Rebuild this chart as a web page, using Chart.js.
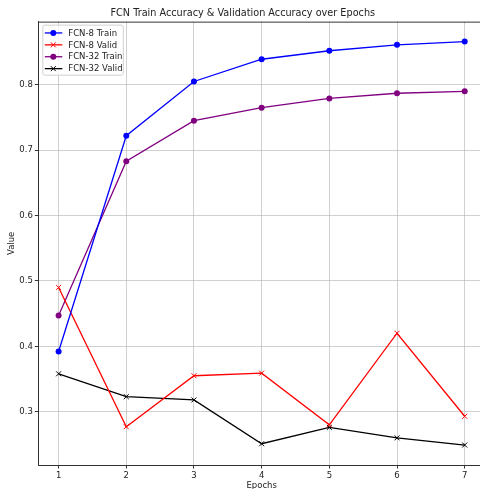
<!DOCTYPE html>
<html>
<head>
<meta charset="utf-8">
<script src="https://cdn.jsdelivr.net/npm/chart.js@4"></script>
<style>
  html, body { margin: 0; padding: 0; background: #fff; overflow: hidden; }
  canvas { display: block; }
</style>
</head>
<body>
<canvas id="acc-chart" width="490" height="489"></canvas>
<script>
// Values
const epochs = [1, 2, 3, 4, 5, 6, 7];
const fcn8Train = [0.392, 0.722, 0.805, 0.839, 0.852, 0.861, 0.866];
const fcn8Valid = [0.490, 0.277, 0.355, 0.359, 0.280, 0.420, 0.293];
const fcn32Train = [0.447, 0.683, 0.745, 0.765, 0.779, 0.787, 0.790];
const fcn32Valid = [0.358, 0.323, 0.318, 0.251, 0.276, 0.260, 0.249];
const yTicks = [0.3, 0.4, 0.5, 0.6, 0.7, 0.8];

const FONT = 'DejaVu Sans';
const TEXT = '#222';

function toPoints(values) {
    return values.map((v, i) => ({ x: epochs[i], y: v }));
}

function makeSet(label, values, color, marker) {
    return {
        label: label,
        data: toPoints(values),
        borderColor: color,
        backgroundColor: color,
        borderWidth: 1.3,
        pointStyle: marker,
        pointRadius: marker === 'circle' ? 3 : 3.5,
        pointBorderWidth: marker === 'circle' ? 0 : 1,
        tension: 0
    };
}

// matplotlib-ish legend box in the upper left + top frame line
const frameAndLegend = {
    id: 'frameAndLegend',
    afterDraw(chart) {
        const ctx = chart.ctx;
        const area = chart.chartArea;
        ctx.save();
        ctx.strokeStyle = '#333';
        ctx.lineWidth = 1;
        ctx.beginPath();
        ctx.moveTo(area.left, area.top + 0.5);
        ctx.lineTo(area.right, area.top + 0.5);
        ctx.stroke();

        // legend
        const x0 = area.left + 4.5, y0 = area.top + 3.5, w = 80.5, h = 50;
        ctx.fillStyle = 'rgba(255,255,255,0.8)';
        ctx.strokeStyle = '#d0d0d0';
        ctx.beginPath();
        ctx.roundRect(x0, y0, w, h, 2);
        ctx.fill();
        ctx.stroke();

        ctx.font = '8.5px "' + FONT + '"';
        ctx.textBaseline = 'middle';
        chart.data.datasets.forEach((ds, i) => {
            const y = y0 + 7.8 + i * 11.9;
            ctx.strokeStyle = ds.borderColor;
            ctx.lineWidth = 1.3;
            ctx.beginPath();
            ctx.moveTo(x0 + 2, y);
            ctx.lineTo(x0 + 19.5, y);
            ctx.stroke();
            const cx = x0 + 10.5;
            if (ds.pointStyle === 'circle') {
                ctx.fillStyle = ds.borderColor;
                ctx.beginPath();
                ctx.arc(cx, y, 3, 0, Math.PI * 2);
                ctx.fill();
            } else {
                ctx.lineWidth = 1;
                ctx.beginPath();
                ctx.moveTo(cx - 2.5, y - 2.5); ctx.lineTo(cx + 2.5, y + 2.5);
                ctx.moveTo(cx - 2.5, y + 2.5); ctx.lineTo(cx + 2.5, y - 2.5);
                ctx.stroke();
            }
            ctx.fillStyle = TEXT;
            ctx.fillText(ds.label, x0 + 25.5, y + 0.5);
        });
        ctx.restore();
    }
};

const gridCfg = {
    color: 'rgba(176,176,176,0.6)',
    lineWidth: 1,
    tickColor: '#333',
    tickLength: 3.5,
    drawOnChartArea: true
};

new Chart(document.getElementById('acc-chart').getContext('2d'), {
    type: 'line',
    data: {
        datasets: [
            makeSet('FCN-8 Train', fcn8Train, 'blue', 'circle'),
            makeSet('FCN-8 Valid', fcn8Valid, 'red', 'crossRot'),
            makeSet('FCN-32 Train', fcn32Train, 'purple', 'circle'),
            makeSet('FCN-32 Valid', fcn32Valid, 'black', 'crossRot')
        ]
    },
    options: {
        responsive: false,
        animation: false,
        devicePixelRatio: 1,
        layout: { padding: { left: 0, right: 4.4, top: 0, bottom: 0 } },
        plugins: {
            legend: { display: false },
            tooltip: { enabled: false },
            title: {
                display: true,
                text: 'FCN Train Accuracy & Validation Accuracy over Epochs',
                color: TEXT,
                font: { family: FONT, size: 9.7, weight: 'normal' },
                padding: { top: 8, bottom: 2 }
            }
        },
        scales: {
            x: {
                type: 'linear',
                min: 0.7,
                max: 7.3,
                grid: gridCfg,
                border: { display: true, color: '#333', width: 1 },
                afterBuildTicks: scale => { scale.ticks = epochs.map(v => ({ value: v })); },
                afterFit: scale => { scale.height = 24; },
                ticks: {
                    color: TEXT,
                    padding: 2,
                    maxRotation: 0,
                    font: { family: FONT, size: 8.5 },
                    callback: v => String(v)
                },
                title: {
                    display: true,
                    text: 'Epochs',
                    color: TEXT,
                    font: { family: FONT, size: 8.5 },
                    padding: { top: 0, bottom: -1.5 }
                }
            },
            y: {
                min: 0.2185,
                max: 0.8965,
                grid: gridCfg,
                border: { display: true, color: '#333', width: 1 },
                afterBuildTicks: scale => { scale.ticks = yTicks.map(v => ({ value: v })); },
                afterFit: scale => { scale.width = 38.3; },
                ticks: {
                    color: TEXT,
                    padding: 2,
                    font: { family: FONT, size: 8.5 },
                    callback: v => v.toFixed(1)
                },
                title: {
                    display: true,
                    text: 'Value',
                    color: TEXT,
                    font: { family: FONT, size: 8.5 },
                    padding: { top: 7, bottom: 0 }
                }
            }
        }
    },
    plugins: [frameAndLegend]
});
</script>
</body>
</html>
